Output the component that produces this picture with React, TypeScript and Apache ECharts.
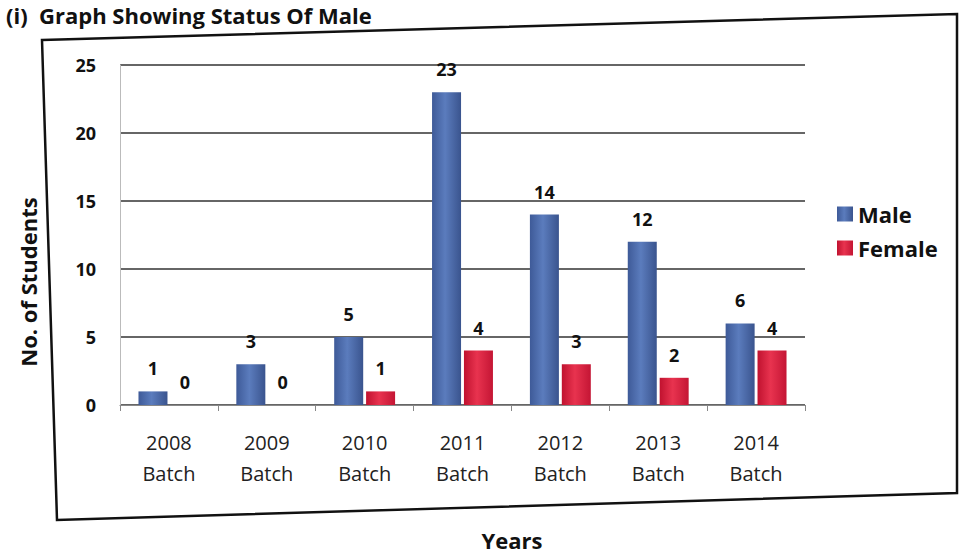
import React, { useEffect, useRef } from "react";
import * as echarts from "echarts";

const categories = ["2008\nBatch", "2009\nBatch", "2010\nBatch", "2011\nBatch", "2012\nBatch", "2013\nBatch", "2014\nBatch"];
const maleValues = [1, 3, 5, 23, 14, 12, 6];
const femaleValues = [0, 0, 1, 4, 3, 2, 4];
const seriesNames = ["Male", "Female"];
const yTicks = { min: 0, max: 25, interval: 5 };

const blueGrad = new echarts.graphic.LinearGradient(0, 0, 1, 0, [
  { offset: 0, color: "#3e5a98" },
  { offset: 0.45, color: "#5b7cbd" },
  { offset: 1, color: "#3a548e" },
]);
const redGrad = new echarts.graphic.LinearGradient(0, 0, 1, 0, [
  { offset: 0, color: "#c0122f" },
  { offset: 0.45, color: "#e8334f" },
  { offset: 1, color: "#c41534" },
]);

export default function App() {
  const ref = useRef<HTMLDivElement>(null);
  useEffect(() => {
    if (!ref.current) return;
    const chart = echarts.init(ref.current, null, { renderer: "svg" });
    const font = "'Open Sans', 'Liberation Sans', sans-serif";
    chart.setOption({
      animation: false,
      backgroundColor: "#ffffff",
      textStyle: { fontFamily: font },
      grid: { left: 120, right: 154, top: 65, bottom: 150 },
      legend: {
        orient: "vertical",
        left: 832,
        top: 198,
        itemWidth: 16,
        itemHeight: 15,
        itemGap: 12,
        icon: "rect",
        data: seriesNames,
        textStyle: { fontSize: 22, fontWeight: "bold", color: "#111", fontFamily: font },
      },
      xAxis: {
        type: "category",
        data: categories,
        axisLine: { show: true, lineStyle: { color: "#888", width: 1.2 } },
        axisTick: { show: true, alignWithLabel: false, length: 6, lineStyle: { color: "#888" } },
        axisLabel: { fontSize: 20, color: "#222", lineHeight: 31, margin: 22, fontFamily: font },
      },
      yAxis: {
        type: "value",
        min: yTicks.min,
        max: yTicks.max,
        interval: yTicks.interval,
        axisLine: { show: true, lineStyle: { color: "#bbb", width: 1 } },
        axisTick: { show: false },
        splitLine: { lineStyle: { color: "#333", width: 1.5 } },
        axisLabel: { fontSize: 18, fontWeight: "bold", color: "#111", margin: 24, fontFamily: font },
      },
      series: [
        {
          name: seriesNames[0],
          type: "bar",
          data: maleValues,
          barWidth: 29,
          barGap: "10%",
          itemStyle: { color: blueGrad },
          label: { show: true, position: "top", distance: 14, fontSize: 18, fontWeight: "bold", color: "#111", fontFamily: font },
        },
        {
          name: seriesNames[1],
          type: "bar",
          data: femaleValues,
          barWidth: 29,
          itemStyle: { color: redGrad },
          label: { show: true, position: "top", distance: 14, fontSize: 18, fontWeight: "bold", color: "#111", fontFamily: font },
        },
      ],
      graphic: [
        {
          type: "polygon",
          shape: { points: [[42, 40], [957, 14], [957, 493], [57, 520]] },
          style: { fill: "none", stroke: "#111", lineWidth: 2.5 },
          z: -1,
        },
        {
          type: "text",
          x: 6,
          y: 4,
          style: { text: "(i)  Graph Showing Status Of Male", fontSize: 22, fontWeight: "bold", fill: "#111", fontFamily: font, verticalAlign: "top" },
        },
        {
          type: "text",
          x: 512,
          y: 540,
          style: { text: "Years", fontSize: 22, fontWeight: "bold", fill: "#111", fontFamily: font, align: "center", verticalAlign: "middle" },
        },
        {
          type: "text",
          x: 28,
          y: 282,
          rotation: Math.PI / 2,
          style: { text: "No. of Students", fontSize: 22, fontWeight: "bold", fill: "#111", fontFamily: font, align: "center", verticalAlign: "middle" },
        },
      ],
    });
    return () => chart.dispose();
  }, []);
  return <div ref={ref} style={{ position: "fixed", left: 0, top: 0, width: 959, height: 555 }} />;
}
